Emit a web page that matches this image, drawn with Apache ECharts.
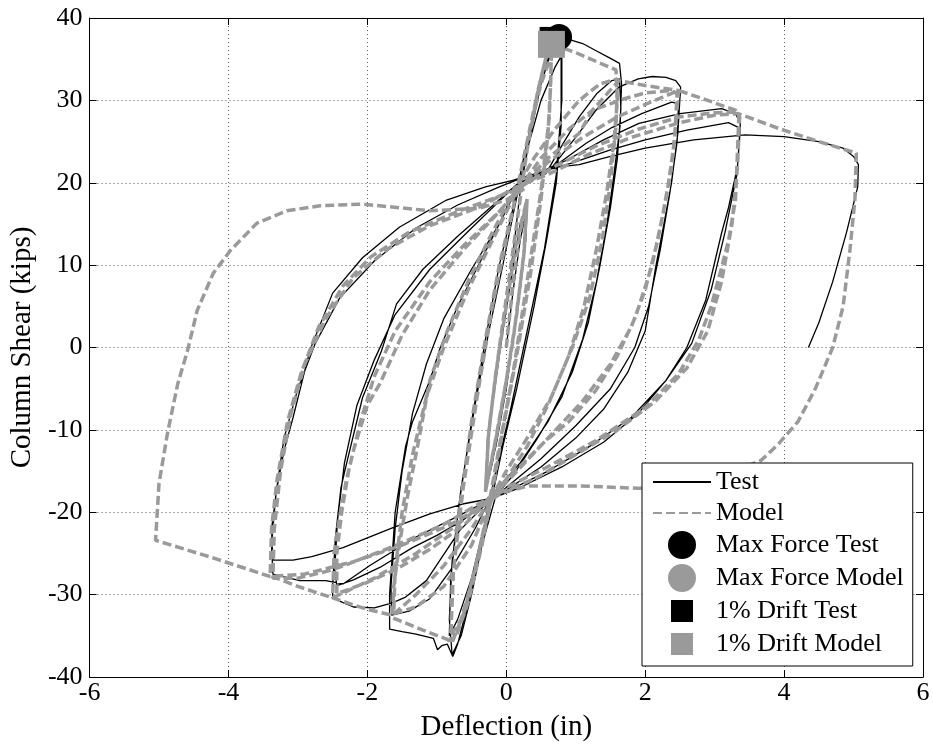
<!DOCTYPE html>
<html>
<head>
<meta charset="utf-8">
<script src="https://cdn.jsdelivr.net/npm/echarts@6/dist/echarts.min.js"></script>
<style>html,body{margin:0;padding:0;background:#fff;}#chart{width:933px;height:748px;}</style>
</head>
<body>
<div id="chart"></div>
<script>
// ---------- DATA ----------
var xTicks = [-6, -4, -2, 0, 2, 4, 6];
var yTicks = [-40, -30, -20, -10, 0, 10, 20, 30, 40];
var legendNames = ['Test', 'Model', 'Max Force Test', 'Max Force Model', '1% Drift Test', '1% Drift Model'];

// Test (measured) hysteresis, traced in order, [deflection in, shear kips]
var testSmall = [[0,0],[0.1,7],[0.2,13],[0.3,17],[0.28,13],[0.2,7],[0.05,-2],[-0.1,-9],[-0.2,-14],[-0.3,-17.5],[-0.28,-13],[-0.2,-7],[-0.05,2],[0.1,10],[0.2,15],[0.3,17.5],[0.27,12],[0.15,4],[0,-5],[-0.15,-12],[-0.3,-17],[-0.27,-11],[-0.15,-3],[0,5],[0.12,13]];
var testC08a = [[0.2,19],[0.35,26],[0.5,32],[0.65,36],[0.76,37.8],[0.79,35],[0.79,27],[0.72,20],[0.58,13],[0.4,5],[0.15,-5],[-0.05,-12],[-0.2,-18],[-0.35,-24],[-0.5,-30],[-0.65,-35],[-0.78,-37.3],[-0.82,-33],[-0.78,-26],[-0.65,-17],[-0.45,-7],[-0.25,2],[-0.05,10],[0.12,17]];
var testC08b = [[0.3,24],[0.5,30],[0.7,34],[0.8,35.5],[0.8,30],[0.72,21],[0.55,12],[0.3,2],[0.05,-8],[-0.15,-15],[-0.3,-21],[-0.5,-28],[-0.7,-33],[-0.82,-35],[-0.8,-28],[-0.68,-19],[-0.5,-9],[-0.3,1],[-0.1,10],[0.1,17]];
var testC16a = [[0.3,25],[0.5,32],[0.65,36.5],[0.76,37.8],[0.9,37.4],[1.1,36.9],[1.3,36.0],[1.5,35.1],[1.63,34.5],[1.66,32],[1.64,27],[1.55,21],[1.45,15],[1.3,8],[1.1,1],[0.8,-6],[0.45,-11],[0.1,-15.5],[-0.15,-18],[-0.35,-24],[-0.55,-31],[-0.7,-36],[-0.77,-37.5],[-0.85,-36],[-0.93,-36.2],[-0.99,-36.7],[-1.05,-35.3],[-1.3,-34.8],[-1.5,-34.5],[-1.68,-34.2],[-1.68,-30],[-1.6,-20],[-1.45,-12],[-1.35,-9],[-1.1,-4],[-0.95,0],[-0.7,5],[-0.4,10],[-0.1,15],[0.14,19.5]];
var testC16b = [[0.57,21.1],[0.8,24.5],[1.05,28],[1.3,30.8],[1.52,32.4],[1.63,32.6],[1.65,29],[1.6,23],[1.5,17],[1.35,10],[1.18,3],[0.95,-3],[0.6,-9],[0.2,-14],[-0.2,-17.8],[-0.45,-22],[-0.8,-27],[-1.1,-30.5],[-1.4,-32],[-1.65,-32.5],[-1.66,-29],[-1.6,-22],[-1.5,-15],[-1.35,-8],[-1.15,-2],[-0.9,3.5],[-0.5,9.5],[-0.1,15],[0.14,19]];
var testC25a = [[0.66,21.9],[1.0,25.5],[1.29,28.8],[1.62,31.6],[1.9,32.6],[2.1,32.9],[2.3,32.8],[2.44,32.4],[2.51,31.6],[2.47,26],[2.38,20],[2.27,15],[2.15,9.7],[2.0,2],[1.75,-3],[1.4,-7.5],[1.0,-11],[0.5,-14.5],[0,-17.3],[-0.2,-18.2],[-0.67,-22.2],[-1.15,-28.3],[-1.45,-30.3],[-1.64,-31],[-1.9,-31.6],[-2.2,-31.5],[-2.4,-30.8],[-2.5,-30.2],[-2.5,-29],[-2.46,-23],[-2.38,-17],[-2.3,-14.1],[-2.07,-6.1],[-1.8,-0.5],[-1.58,5.3],[-1.2,9.5],[-0.7,13.5],[-0.2,17.2],[0.15,19.8]];
var testC25b = [[0.76,22.4],[1.15,24.8],[1.52,26.7],[1.95,28.4],[2.38,29.8],[2.48,29.6],[2.46,25],[2.36,19],[2.22,12],[2.05,5],[1.85,0],[1.5,-5],[1.0,-9.5],[0.5,-13.5],[0,-17],[-0.2,-18.2],[-0.63,-21],[-1.0,-22.8],[-1.35,-24.3],[-1.82,-26.7],[-2.2,-28.2],[-2.44,-28.9],[-2.47,-27],[-2.43,-21],[-2.33,-14],[-2.15,-7],[-1.9,-1.5],[-1.6,4],[-1.1,9.5],[-0.5,14.5],[0.15,19.8]];
var testC33a = [[0.86,22.7],[1.4,25.2],[1.91,27.2],[2.5,28.4],[3.1,29.0],[3.3,28.4],[3.37,27.2],[3.33,22],[3.2,17],[3.1,13.9],[2.87,5.7],[2.6,0],[2.3,-4],[1.9,-8],[1.4,-11.5],[0.8,-14.5],[0.2,-17],[-0.2,-18.3],[-0.63,-19],[-1.1,-20.2],[-1.64,-21.9],[-2.35,-24.3],[-2.8,-25.4],[-3.07,-25.8],[-3.36,-25.8],[-3.38,-22],[-3.3,-17],[-3.2,-12.5],[-3.07,-8.5],[-2.83,-0.4],[-2.5,6.6],[-2.07,10.9],[-1.54,14.6],[-0.86,17.9],[-0.3,19.5],[0.09,20.3]];
var testC33b = [[0.95,22.4],[1.5,24],[2.0,25.2],[2.6,26.4],[3.2,27.3],[3.37,26.6],[3.32,21],[3.15,14],[2.95,7],[2.67,0.5],[2.3,-4],[1.8,-8.5],[1.2,-12],[0.6,-15],[0,-17.5],[-0.2,-18.3],[-0.7,-20.5],[-1.3,-23],[-1.97,-26.5],[-2.35,-28.7],[-2.6,-28.3],[-2.97,-28.3],[-3.36,-27.5],[-3.38,-24],[-3.32,-18],[-3.2,-11],[-3.0,-5],[-2.75,0.5],[-2.4,6],[-1.9,10.5],[-1.3,14.5],[-0.7,17.3],[-0.1,19.5],[0.2,20.5]];
var testC50 = [[0.72,21.9],[1.05,22.2],[1.5,23.2],[2.0,24.2],[2.7,25.2],[3.44,25.8],[4.0,25.6],[4.5,25.0],[4.85,24.2],[5.0,23.2],[5.07,22.2],[5.06,19.5],[4.9,14],[4.7,8],[4.5,3],[4.35,0]];

// Model hysteresis, traced in order
var modelSmall = [[0,0],[0.1,8],[0.2,14],[0.3,18],[0.26,12],[0.15,4],[0,-4],[-0.15,-11],[-0.3,-17.5],[-0.26,-11],[-0.15,-3],[0,5],[0.15,13],[0.3,18],[0.25,11],[0.1,1],[-0.1,-9],[-0.3,-17.5],[-0.25,-10],[-0.1,0],[0.05,9],[0.15,15]];
var modelC08a = [[0.3,24],[0.45,31],[0.58,35.5],[0.65,36.8],[0.64,32],[0.6,26],[0.5,18],[0.35,9],[0.15,-1],[-0.05,-10],[-0.2,-17.5],[-0.35,-24],[-0.55,-31],[-0.72,-35],[-0.8,-35.6],[-0.78,-29],[-0.68,-20],[-0.5,-9],[-0.3,1],[-0.1,10],[0.1,17]];
var modelC08b = [[0.3,25],[0.5,32],[0.65,35.5],[0.62,28],[0.5,19],[0.3,8],[0.1,-3],[-0.1,-12],[-0.25,-19],[-0.45,-27],[-0.65,-33],[-0.8,-35],[-0.76,-27],[-0.62,-17],[-0.42,-6],[-0.2,5],[0,13],[0.15,19]];
var modelC16a = [[0.4,29],[0.55,34.5],[0.66,36.8],[1.0,35.8],[1.3,34.7],[1.58,33.7],[1.6,30],[1.55,25],[1.45,19],[1.3,12],[1.12,5],[0.9,-1],[0.6,-7],[0.3,-12],[0,-16],[-0.2,-18],[-0.4,-25],[-0.6,-32],[-0.78,-35.8],[-0.86,-35.4],[-1.2,-34.3],[-1.64,-32.8],[-1.62,-29],[-1.54,-24],[-1.42,-18],[-1.3,-13],[-1.1,-4],[-0.85,2],[-0.55,8],[-0.2,14],[0.12,19]];
var modelC16b = [[0.4,23],[0.7,26.5],[1.05,30],[1.35,32],[1.6,32.6],[1.58,27],[1.5,20],[1.38,13],[1.2,6],[0.95,0],[0.65,-6],[0.3,-11],[0,-15],[-0.2,-18],[-0.5,-24],[-0.9,-29],[-1.3,-31.5],[-1.62,-32.3],[-1.6,-27],[-1.5,-20],[-1.35,-13],[-1.15,-6],[-0.9,0],[-0.55,7],[-0.2,13],[0.12,18.5]];
var modelC25a = [[0.5,23],[0.9,26.5],[1.24,28.8],[1.62,32.4],[2.0,31.8],[2.48,31.2],[2.44,27],[2.38,22],[2.25,16],[2.1,10],[1.86,3.7],[1.6,-1],[1.29,-5.2],[0.9,-9],[0.57,-11.3],[0.09,-15.3],[-0.2,-18],[-0.5,-22],[-0.9,-26.5],[-1.3,-30],[-1.64,-32.5],[-2.0,-31.8],[-2.5,-30.4],[-2.48,-25],[-2.4,-20.6],[-2.3,-16],[-2.2,-12.5],[-2.0,-7],[-1.82,-4.4],[-1.5,1.5],[-1.1,7],[-0.6,12],[-0.1,16.5],[0.15,19]];
var modelC25b = [[0.6,23],[1.05,26],[1.24,28.8],[1.7,30.2],[2.0,30.9],[2.38,31.2],[2.46,30.8],[2.42,25],[2.32,19],[2.18,13],[2.0,7],[1.8,2.5],[1.5,-2],[1.1,-6.5],[0.6,-11],[0.1,-15.5],[-0.2,-18],[-0.6,-21.5],[-1.1,-24.5],[-1.6,-27],[-2.0,-28.5],[-2.44,-29.9],[-2.44,-25],[-2.37,-20],[-2.27,-15],[-2.1,-9],[-1.9,-3.5],[-1.6,2],[-1.1,8],[-0.6,12.5],[-0.1,16.5],[0.15,19]];
var modelC33a = [[0.6,22.5],[1.1,25.5],[1.6,28],[2.0,29.5],[2.48,31.2],[2.9,30],[3.3,28.8],[3.35,28.4],[3.33,24],[3.3,17.9],[3.2,13],[3.1,9.7],[2.95,5],[2.77,0.9],[2.48,-3.2],[2.0,-7.3],[1.29,-11.3],[0.57,-14.6],[0,-17],[-0.2,-18],[-0.7,-21.5],[-1.3,-25],[-1.9,-28],[-2.5,-30.4],[-3.0,-29],[-3.4,-27.7],[-3.38,-22],[-3.3,-16],[-3.15,-9],[-2.95,-3],[-2.7,2.5],[-2.35,7.5],[-1.95,11],[-1.4,14],[-0.7,16.5],[0.1,19]];
var modelC33b = [[0.7,22],[1.3,24.5],[1.9,26.5],[2.5,28],[3.0,28.5],[3.3,28.6],[3.36,28],[3.33,22],[3.25,15],[3.1,8],[2.9,2],[2.6,-2.5],[2.15,-6.5],[1.6,-10],[1.0,-13],[0.4,-16],[0,-17.3],[-0.2,-18],[-0.9,-21.5],[-1.64,-24.2],[-2.5,-27],[-3.0,-28],[-3.36,-28],[-3.34,-22],[-3.25,-15],[-3.1,-8],[-2.9,-2],[-2.6,3.5],[-2.2,8.5],[-1.7,12],[-1.1,14.8],[-0.4,17],[0.15,19.5]];
var modelC50 = [[0.6,21],[1.2,23.5],[1.8,25.5],[2.5,27.3],[3.0,28.2],[3.34,28.4],[3.92,26.6],[4.5,25],[5.04,23.6],[5.02,18],[4.95,12],[4.85,5],[4.7,0],[4.45,-5],[4.2,-9],[3.92,-11.7],[3.67,-13.7],[3.2,-15.3],[2.6,-16.3],[1.91,-17.1],[1.05,-16.8],[0.33,-16.8],[-0.06,-17.6],[-0.3,-19],[-0.8,-21.5],[-1.5,-24],[-2.2,-26],[-2.9,-27.5],[-3.4,-27.8],[-4.2,-25.6],[-5.05,-23.4],[-5.0,-16.5],[-4.88,-10.5],[-4.73,-4.4],[-4.59,-0.4],[-4.45,4.5],[-4.22,9],[-3.97,11.8],[-3.59,15.1],[-3.16,16.6],[-2.68,17.2],[-2.07,17.4],[-1.58,17],[-1.1,16.6],[-0.39,16.9],[0,17.9],[0.3,19.5]];

// Marker points
var maxForceTest = [[0.76, 37.7]];
var maxForceModel = [[0.65, 36.9]];
var driftTest = [[0.66, 37.4]];
var driftModel = [[0.65, 36.8]];

// ---------- CHART ----------
var testData = [].concat(testSmall, testC08a, testC08b, testC16a, testC16b, testC25a, testC25b, testC33a, testC33b, testC50);
var modelData = [].concat(modelSmall, modelC08a, modelC08b, modelC16a, modelC16b, modelC25a, modelC25b, modelC33a, modelC33b, modelC50);

var FONT = "'Liberation Serif', 'Times New Roman', serif";
var chart = echarts.init(document.getElementById('chart'), null, {renderer: 'canvas'});

function xAx(pos, show) {
  return {
    type: 'value', position: pos, min: xTicks[0], max: xTicks[xTicks.length - 1], interval: 2,
    name: show ? 'Deflection (in)' : '', nameLocation: 'middle', nameGap: 36,
    nameTextStyle: {fontFamily: FONT, fontSize: 29, color: '#000'},
    axisLine: {show: true, onZero: false, lineStyle: {color: '#000', width: 1}},
    axisTick: {show: true, inside: true, length: 7, lineStyle: {color: '#000'}},
    axisLabel: {show: show, fontFamily: FONT, fontSize: 26, color: '#000', margin: 3},
    splitLine: {show: show, lineStyle: {color: '#555', type: [1, 3], width: 1}}
  };
}
function yAx(pos, show) {
  return {
    type: 'value', position: pos, min: yTicks[0], max: yTicks[yTicks.length - 1], interval: 10,
    name: show ? 'Column Shear (kips)' : '', nameLocation: 'middle', nameGap: 42,
    nameTextStyle: {fontFamily: FONT, fontSize: 29, color: '#000'},
    axisLine: {show: true, onZero: false, lineStyle: {color: '#000', width: 1}},
    axisTick: {show: true, inside: true, length: 7, lineStyle: {color: '#000'}},
    axisLabel: {show: show, fontFamily: FONT, fontSize: 26, color: '#000', margin: 7},
    splitLine: {show: show, lineStyle: {color: '#555', type: [1, 3], width: 1}}
  };
}

var sqIcon = 'path://M0,0M28,28M3,3L25,3L25,25L3,25Z';
var hiddenSymbol = {opacity: 0, color: 'rgba(0,0,0,0)', borderWidth: 0};

chart.setOption({
  animation: false,
  backgroundColor: '#fff',
  grid: {left: 89, right: 10, top: 18, bottom: 71, containLabel: false},
  xAxis: [xAx('bottom', true), xAx('top', false)],
  yAxis: [yAx('left', true), yAx('right', false)],
  legend: {
    orient: 'vertical', left: 642, top: 463,
    backgroundColor: '#fff', borderColor: '#000', borderWidth: 1, borderRadius: 0,
    padding: [6, 9, 8, 10], itemGap: 5, itemWidth: 58, itemHeight: 28,
    textStyle: {fontFamily: FONT, fontSize: 26, color: '#000'},
    data: [
      {name: legendNames[0], itemStyle: hiddenSymbol},
      {name: legendNames[1], itemStyle: hiddenSymbol},
      {name: legendNames[2], icon: 'circle'},
      {name: legendNames[3], icon: 'circle'},
      {name: legendNames[4], icon: sqIcon},
      {name: legendNames[5], icon: sqIcon}
    ]
  },
  series: [
    {name: legendNames[0], type: 'line', data: testData, showSymbol: false, symbol: 'none', smooth: false,
     lineStyle: {color: '#000', width: 1.3}, itemStyle: {color: '#000'}, z: 2},
    {name: legendNames[1], type: 'line', data: modelData, showSymbol: false, symbol: 'none', smooth: false,
     lineStyle: {color: '#9a9a9a', width: 3.5, type: [9, 4]}, itemStyle: {color: '#9a9a9a'}, z: 3},
    {name: legendNames[2], type: 'scatter', data: maxForceTest, symbol: 'circle', symbolSize: 26,
     itemStyle: {color: '#000', opacity: 1}, z: 4},
    {name: legendNames[3], type: 'scatter', data: maxForceModel, symbol: 'circle', symbolSize: 26,
     itemStyle: {color: '#9a9a9a', opacity: 1}, z: 5},
    {name: legendNames[4], type: 'scatter', data: driftTest, symbol: 'rect', symbolSize: 25,
     itemStyle: {color: '#000', opacity: 1}, z: 6},
    {name: legendNames[5], type: 'scatter', data: driftModel, symbol: 'rect', symbolSize: 27,
     itemStyle: {color: '#9a9a9a', opacity: 1}, z: 7}
  ]
});
</script>
</body>
</html>
